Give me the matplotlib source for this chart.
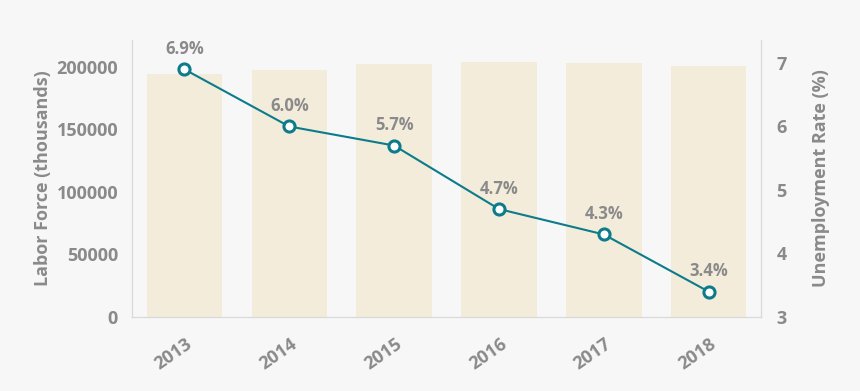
import matplotlib.pyplot as plt
from matplotlib.transforms import ScaledTranslation
import numpy as np

# Data
years = ['2013', '2014', '2015', '2016', '2017', '2018']
labor_force = [194400, 197600, 202400, 204000, 203400, 200800]
unemployment = [6.9, 6.0, 5.7, 4.7, 4.3, 3.4]

bg = '#f7f7f7'
bar_color = '#f3ecdb'
line_color = '#0c7b8a'
text_color = '#8a8a8a'
spine_color = '#d9d9d9'

plt.rcParams['font.family'] = ['Open Sans', 'DejaVu Sans']
plt.rcParams['font.weight'] = 'bold'

fig = plt.figure(figsize=(8.6, 3.91), dpi=100, facecolor=bg)
ax = fig.add_axes([0.1535, 0.1893, 0.7314, 0.7084])
ax.set_facecolor(bg)

x = np.arange(len(years))
ax.bar(x, labor_force, width=0.72, color=bar_color, zorder=1)
ax.set_xlim(-0.5, len(years) - 0.5)
ax.set_ylim(0, 221600)
ax.set_yticks([0, 50000, 100000, 150000, 200000])
ax.set_xticks(x)
ax.set_xticklabels(years, rotation=35, ha='center')
ax.set_ylabel('Labor Force (thousands)', color=text_color, fontsize=13,
              fontweight='bold', labelpad=3)

ax2 = ax.twinx()
ax2.plot(x, unemployment, color=line_color, lw=1.5, marker='o', ms=8,
         mfc='white', mec=line_color, mew=2.2, zorder=3)
ax2.set_ylim(3, 7.362)
ax2.set_yticks([3, 4, 5, 6, 7])
ax2.set_ylabel('Unemployment Rate (%)', color=text_color, fontsize=13,
               fontweight='bold', labelpad=18)

for xi, v in zip(x, unemployment):
    ax2.annotate(f'{v:.1f}%', (xi, v), xytext=(0, 14.5), textcoords='offset points',
                 ha='center', va='center', color=text_color, fontsize=12,
                 fontweight='bold')

for a in (ax, ax2):
    a.tick_params(length=0, colors=text_color, labelsize=13)
    for lbl in a.get_xticklabels() + a.get_yticklabels():
        lbl.set_fontweight('bold')
    for s in a.spines.values():
        s.set_color(spine_color)
    a.spines['top'].set_visible(False)
ax.tick_params(axis='y', pad=10)
ax2.tick_params(axis='y', pad=11)
ax.tick_params(axis='x', pad=8)

# nudge the rotated year labels down-left like the original
shift = ScaledTranslation(-0.11, -0.07, fig.dpi_scale_trans)
for lbl in ax.get_xticklabels():
    lbl.set_transform(lbl.get_transform() + shift)

fig.savefig('out.png', dpi=100, facecolor=bg)
